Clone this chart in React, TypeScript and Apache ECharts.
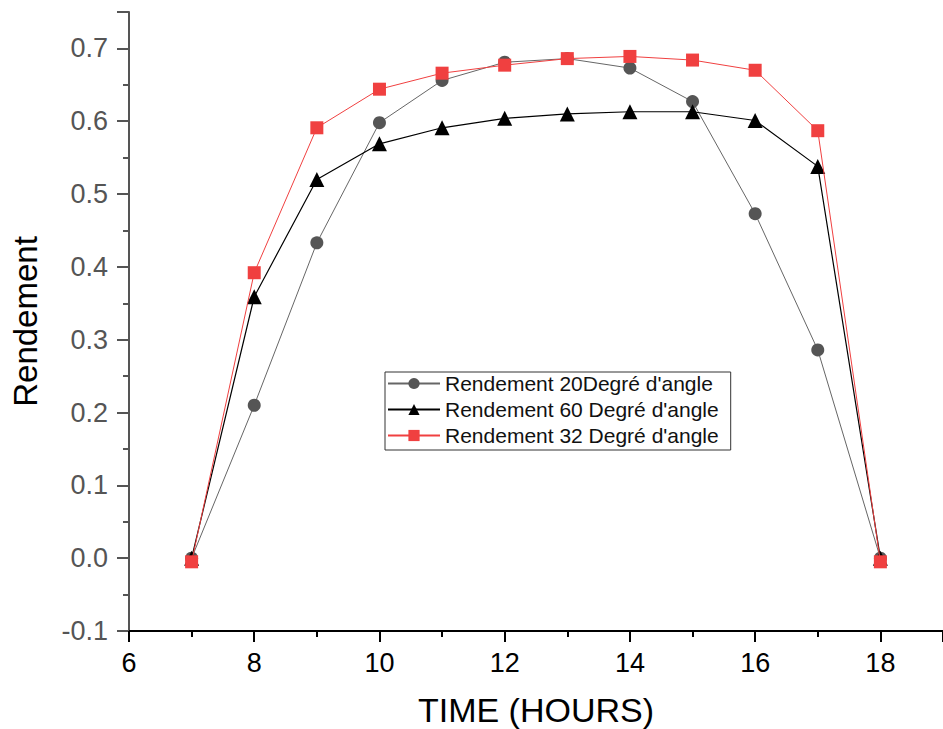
import React, { useEffect, useRef } from "react";
import * as echarts from "echarts";

const hours = [7, 8, 9, 10, 11, 12, 13, 14, 15, 16, 17, 18];
const rend20 = [0, 0.21, 0.433, 0.598, 0.656, 0.681, 0.686, 0.673, 0.627, 0.473, 0.286, 0];
const rend60 = [0, 0.359, 0.52, 0.569, 0.591, 0.604, 0.61, 0.613, 0.613, 0.601, 0.538, 0];
const rend32 = [-0.005, 0.392, 0.591, 0.644, 0.666, 0.677, 0.686, 0.689, 0.684, 0.67, 0.587, -0.005];
const seriesNames = [
  "Rendement 20Degré d'angle",
  "Rendement 60 Degré d'angle",
  "Rendement 32 Degré d'angle",
];

const font = "Liberation Sans, Arial, sans-serif";

export default function App() {
  const ref = useRef<HTMLDivElement>(null);
  useEffect(() => {
    if (!ref.current) return;
    const chart = echarts.init(ref.current, null, { renderer: "svg" });
    const pts = (vals: number[]) => hours.map((h, i) => [h, vals[i]]);
    chart.setOption({
      animation: false,
      backgroundColor: "#fff",
      grid: { left: 129, top: 12, right: 0, bottom: 98, containLabel: false, outerBoundsMode: "none" },
      legend: {
        orient: "vertical",
        left: 385,
        top: 372,
        borderColor: "#333",
        borderWidth: 1,
        padding: [1, 12, 4, 2],
        itemGap: 5,
        itemWidth: 52,
        itemHeight: 14,
        textStyle: { fontFamily: font, fontSize: 21, color: "#111" },
        data: seriesNames,
      },
      xAxis: {
        type: "value",
        min: 6,
        max: 19,
        interval: 2,
        name: "TIME (HOURS)",
        nameLocation: "middle",
        nameGap: 62,
        nameTextStyle: { fontFamily: font, fontSize: 34, color: "#000", lineHeight: 34 },
        axisLine: { onZero: false, lineStyle: { color: "#000", width: 2 } },
        axisTick: { length: 11, lineStyle: { color: "#000", width: 2 } },
        minorTick: { show: true, splitNumber: 2, length: 6, lineStyle: { color: "#000", width: 2 } },
        splitLine: { show: false },
        axisLabel: { fontFamily: font, fontSize: 27, color: "#000", margin: 18, showMaxLabel: false },
      },
      yAxis: {
        type: "value",
        min: -0.1,
        max: 0.75,
        interval: 0.1,
        name: "Rendement",
        nameLocation: "middle",
        nameGap: 87,
        nameTextStyle: { fontFamily: font, fontSize: 33, color: "#000" },
        axisLine: { onZero: false, lineStyle: { color: "#555", width: 2 } },
        axisTick: { length: 12, lineStyle: { color: "#555", width: 2 } },
        minorTick: { show: true, splitNumber: 2, length: 6, lineStyle: { color: "#555", width: 2 } },
        splitLine: { show: false },
        axisLabel: {
          fontFamily: font,
          fontSize: 27,
          color: "#555",
          margin: 21,
          showMaxLabel: false,
          formatter: (v: number) => v.toFixed(1),
        },
      },
      series: [
        {
          name: seriesNames[0],
          type: "line",
          data: pts(rend20),
          symbol: "circle",
          symbolSize: 13,
          itemStyle: { color: "#555" },
          lineStyle: { color: "#666", width: 1 },
          z: 2,
        },
        {
          name: seriesNames[1],
          type: "line",
          data: pts(rend60),
          symbol: "triangle",
          symbolSize: 15,
          itemStyle: { color: "#000" },
          lineStyle: { color: "#000", width: 1.2 },
          z: 3,
        },
        {
          name: seriesNames[2],
          type: "line",
          data: pts(rend32),
          symbol: "rect",
          symbolSize: 13,
          itemStyle: { color: "#f04040" },
          lineStyle: { color: "#f04040", width: 1 },
          z: 4,
        },
      ],
    });
    return () => chart.dispose();
  }, []);
  return <div ref={ref} style={{ width: 943, height: 729, position: "absolute", left: 0, top: 0 }} />;
}
